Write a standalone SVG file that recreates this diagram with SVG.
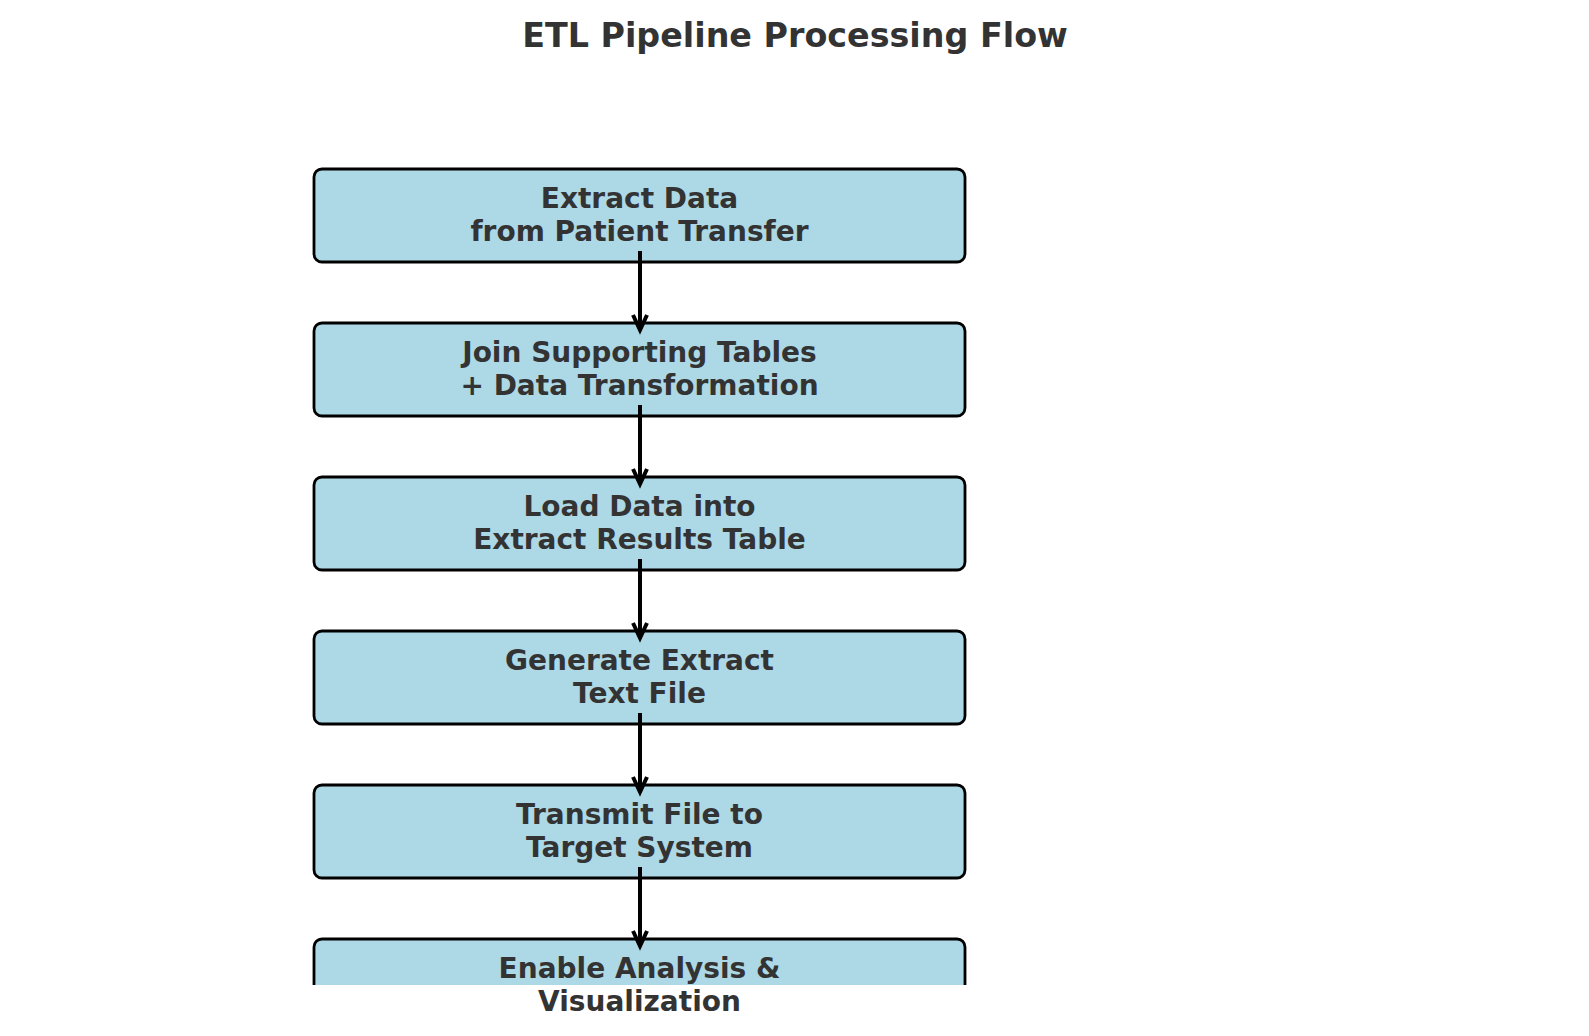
<svg xmlns="http://www.w3.org/2000/svg" width="1589" height="1036" viewBox="0 0 1589 1036">
<style>
.box{fill:#ADD8E6;stroke:#000;stroke-width:2.8}
.lbl{font-family:"DejaVu Sans",sans-serif;font-weight:bold;font-size:28px;fill:#333333;text-anchor:middle}
.title{font-family:"DejaVu Sans",sans-serif;font-weight:bold;font-size:33.33px;fill:#333333;text-anchor:middle}
.edge{fill:none;stroke:#000;stroke-width:4;stroke-linecap:butt}
.head{fill:none;stroke:#000;stroke-width:4;stroke-linejoin:miter;stroke-linecap:butt}
</style>
<defs>
<clipPath id="axclip"><rect x="0" y="0" width="1589" height="985"/></clipPath>
</defs>
<rect x="0" y="0" width="1589" height="1036" fill="#ffffff"/>
<text class="title" x="795" y="47">ETL Pipeline Processing Flow</text>
<g id="n1"><rect class="box" x="314" y="169" width="651" height="93" rx="8"/>
<text class="lbl" x="639.5" y="208">Extract Data</text><text class="lbl" x="639.5" y="241">from Patient Transfer</text></g>
<g id="n2"><rect class="box" x="314" y="323" width="651" height="93" rx="8"/>
<text class="lbl" x="639.5" y="362">Join Supporting Tables</text><text class="lbl" x="639.5" y="395">+ Data Transformation</text></g>
<g id="n3"><rect class="box" x="314" y="477" width="651" height="93" rx="8"/>
<text class="lbl" x="639.5" y="516">Load Data into</text><text class="lbl" x="639.5" y="549">Extract Results Table</text></g>
<g id="n4"><rect class="box" x="314" y="631" width="651" height="93" rx="8"/>
<text class="lbl" x="639.5" y="670">Generate Extract</text><text class="lbl" x="639.5" y="703">Text File</text></g>
<g id="n5"><rect class="box" x="314" y="785" width="651" height="93" rx="8"/>
<text class="lbl" x="639.5" y="824">Transmit File to</text><text class="lbl" x="639.5" y="857">Target System</text></g>
<g id="n6"><rect class="box" x="314" y="939" width="651" height="93" rx="8" clip-path="url(#axclip)"/>
<text class="lbl" x="639.5" y="978">Enable Analysis &amp;</text><text class="lbl" x="639.5" y="1011">Visualization</text></g>
<g id="connectors">
<path class="edge" d="M640,251 V329"/><path class="head" d="M633,315 L640,330 L647,315"/>
<path class="edge" d="M640,405 V483"/><path class="head" d="M633,469 L640,484 L647,469"/>
<path class="edge" d="M640,559 V637"/><path class="head" d="M633,623 L640,638 L647,623"/>
<path class="edge" d="M640,713 V791"/><path class="head" d="M633,777 L640,792 L647,777"/>
<path class="edge" d="M640,867 V945"/><path class="head" d="M633,931 L640,946 L647,931"/>
</g>
</svg>
